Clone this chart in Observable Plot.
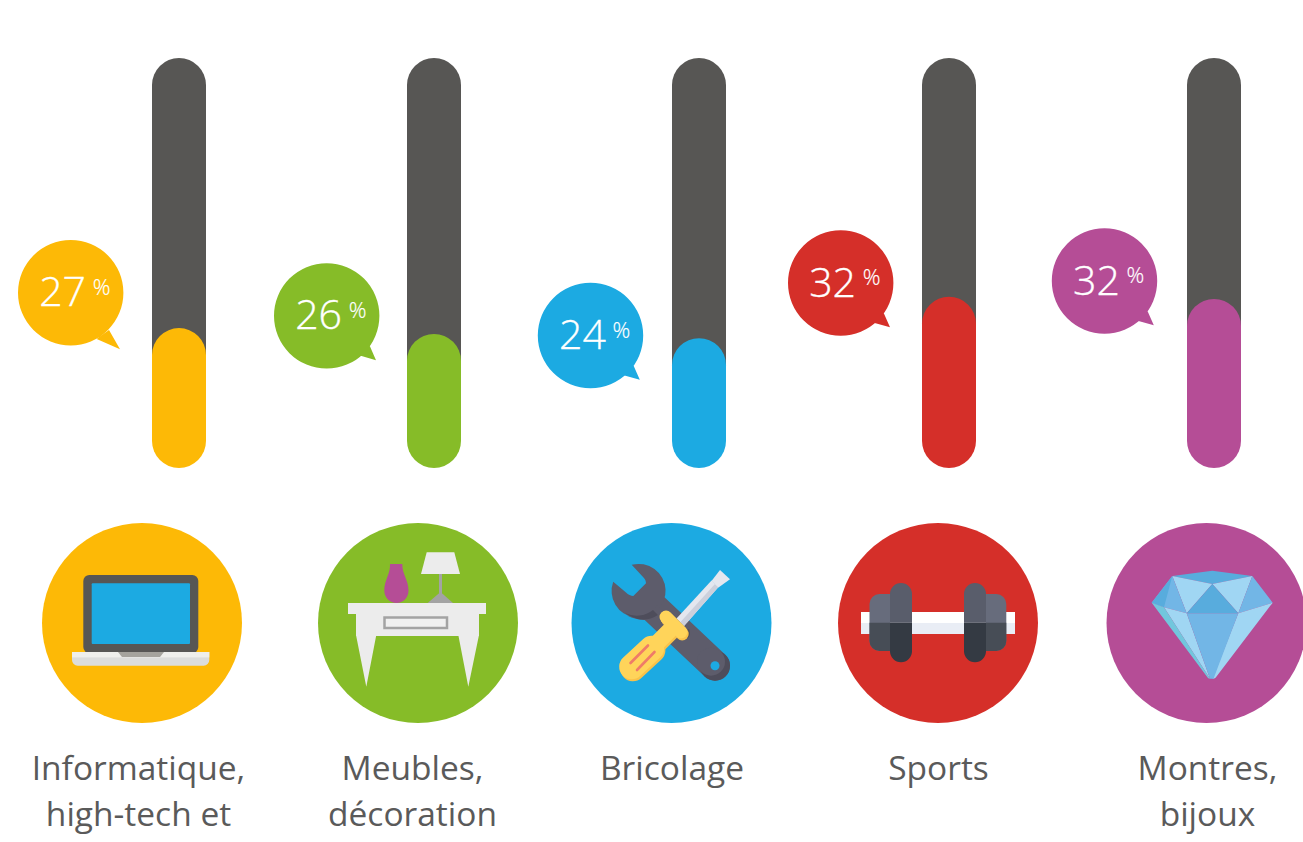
<!DOCTYPE html>
<html lang="fr">
<head>
<meta charset="utf-8">
<script src="https://cdn.jsdelivr.net/npm/d3@7"></script>
<script src="https://cdn.jsdelivr.net/npm/@observablehq/plot@0.6"></script>
<style>html,body{margin:0;padding:0;background:#fff;overflow:hidden}svg{display:block}</style>
</head>
<body>
<div id="chart"></div>
<script>
// Data
const categories = ["Informatique,\nhigh-tech et", "Meubles,\ndécoration", "Bricolage", "Sports", "Montres,\nbijoux"];
const percents = [27, 26, 24, 32, 32];
const barLevels = [26.4, 25.3, 24.5, 32.3, 31.9];      // drawn fill height
const bubbleLevels = [33.17, 28.8, 25.1, 35.0, 35.38]; // bubble height on the same axis
const colors = ["#fdb906", "#86bc28", "#1caae2", "#d52f29", "#b54d96"];
const trackLevel = 77.36;

// Layout (separate from data)
const barCenters = [179, 434, 699, 949, 1214];
const bubbleCenters = [70.2, 326.2, 590, 840.2, 1104];
const iconCenters = [141.5, 417.5, 671, 937.5, 1206];
const labelCenters = [138, 412, 671.5, 938, 1207];
const barHalf = 27;

const rows = categories.map((c, i) => ({
  category: c, percent: percents[i], level: barLevels[i], bubble: bubbleLevels[i], color: colors[i],
  barX1: barCenters[i] - barHalf, barX2: barCenters[i] + barHalf,
  bubbleX: bubbleCenters[i], iconX: iconCenters[i], labelX: labelCenters[i]
}));

const bubbleSymbol = (ax, ay, tx, ty, bx, by) => ({
  draw(ctx, size) {
    const r = Math.sqrt(size / Math.PI);
    ctx.moveTo(r, 0); ctx.arc(0, 0, r, 0, 2 * Math.PI); ctx.closePath();
    ctx.moveTo(ax, ay); ctx.lineTo(tx, ty); ctx.lineTo(bx, by); ctx.closePath();
  }
});

const iconsSvg = `
<g id="laptop">
  <rect x="83.3" y="575" width="115" height="78" rx="6" fill="#575654"/>
  <rect x="91.7" y="583.3" width="98.3" height="60.7" rx="1" fill="#1caae2"/>
  <path d="M72 652H209.3V660a5.7 5.7 0 0 1-5.7 5.7H77.7a5.7 5.7 0 0 1-5.7-5.7Z" fill="#dcdddc"/>
  <rect x="72" y="652" width="137.3" height="5.4" fill="#efefec"/>
  <path d="M118 652H164L160 657H122Z" fill="#a5a39d"/>
</g>
<g id="desk">
  <rect x="348" y="603" width="138" height="11" fill="#ececec"/>
  <rect x="356" y="614" width="123" height="22" fill="#ececec"/>
  <path d="M356 635L376.3 635L366.3 686.7Z M458.3 635L479 635L468.3 686.7Z" fill="#ececec"/>
  <rect x="384.5" y="617.5" width="62.5" height="10.5" fill="#f0f0f0" stroke="#a3a3a3" stroke-width="2.5"/>
  <path d="M426.7 552.3H454.3L460 574H421Z" fill="#ececec"/>
  <rect x="439" y="574" width="3" height="22" fill="#a3a3a3"/>
  <path d="M427.7 603L440.5 592L453 603Z" fill="#a3a3a3"/>
  <path d="M390 564H402.3C402 574 408.5 580 408.5 590.5C408.5 598 403 603 396.5 603C390 603 384.3 598 384.3 590.5C384.3 580 390.5 574 390 564Z" fill="#b54d96"/>
</g>
<g id="tools">
  <path d="M655 609L715 665.7" stroke="#5d5c6b" stroke-width="30" stroke-linecap="round" fill="none"/>
  <path d="M631.7 564.8A27 27 0 1 1 613.2 581.7L626 592.5C628 594.5 631 596 633.3 596L646 583.3C646 581 645 579 643.5 577.5Z" fill="#5d5c6b"/>
  <path d="M627 615.5C640 619 652 616 657 605L664 612C654 622 640 622 627 615.5Z" fill="#5d5c6b"/>
  <path d="M625 613A26.5 26.5 0 0 0 653 610L658 615A28 28 0 0 1 631 616.5Z" fill="#4e4d5b"/>
  <circle cx="715" cy="665.7" r="15" fill="#4e4d5b"/>
  <circle cx="711" cy="661.7" r="14" fill="#5d5c6b"/>
  <path d="M681 640C688 640 692 636 689 629L676 635Z" fill="#4e4d5b"/>
  <circle cx="715" cy="665.7" r="4.5" fill="#1caae2"/>
  <path d="M676.5 618.5L711.5 580.5L718.5 587L684 626Z" fill="#e4e7ef"/>
  <path d="M680.5 622L715 584L718.5 587L684 626Z" fill="#ccd0dc"/>
  <path d="M711.5 581L720 570L730 579.3L718.5 587.5Z" fill="#e4e7ef"/>
  <g fill="none" stroke-linecap="round" stroke-linejoin="round" transform="translate(1.2 2)" stroke="#f9c24a">
    <path d="M631.7 666.7L651.7 648.3" stroke-width="25"/>
    <path d="M655 645L670 630" stroke-width="16"/>
    <path d="M666 617L681 632" stroke-width="13"/>
  </g>
  <g fill="none" stroke-linecap="round" stroke-linejoin="round" stroke="#ffd45a">
    <path d="M631.7 666.7L651.7 648.3" stroke-width="25"/>
    <path d="M655 645L670 630" stroke-width="16"/>
    <path d="M666 617L681 632" stroke-width="13"/>
  </g>
  <path d="M630.5 663L648 645.5M637 670L654.5 652" stroke="#ef7b68" stroke-width="2.6" stroke-linecap="round"/>
</g>
<g id="dumbbell">
  <rect x="861" y="612" width="154" height="11" fill="#fff"/>
  <rect x="861" y="623" width="154" height="11" fill="#e9edf5"/>
  <path d="M890 594H879.5a10 10 0 0 0-10 10V641a10 10 0 0 0 10 10H890Z" fill="#676c7c"/>
  <path d="M986 594H996.3a10 10 0 0 1 10 10V641a10 10 0 0 1-10 10H986Z" fill="#676c7c"/>
  <path d="M869.5 622.7H890V651H879.5a10 10 0 0 1-10-10Z M986 622.7H1006.3V641a10 10 0 0 1-10 10H986Z" fill="#474d56"/>
  <path d="M890 622.7V594a11 11 0 0 1 22 0V622.7Z M964 622.7V594a11 11 0 0 1 22 0V622.7Z" fill="#595d6b"/>
  <path d="M890 622.7H912V651.3a11 11 0 0 1-22 0Z M964 622.7H986V651.3a11 11 0 0 1-22 0Z" fill="#343a43"/>
</g>
<g id="diamond">
  <path d="M1172.3 576L1212.3 570.7L1252.3 576L1212.3 584Z" fill="#58acdd"/>
  <path d="M1172.3 576L1212.3 584L1186.7 613.3Z M1252.3 576L1212.3 584L1238.3 613.3Z" fill="#a0d6f3"/>
  <path d="M1212.3 584L1186.7 613.3H1238.3Z" fill="#58acdd"/>
  <path d="M1172.3 576L1151.7 602.7L1164 607.3L1186.7 613.3Z M1252.3 576L1272.7 602.7L1238.3 613.3Z" fill="#72b6e6"/>
  <path d="M1172.3 576L1151.7 602.7L1164 607.3Z" fill="#58acdd"/>
  <path d="M1164 607.3L1186.7 613.3L1210 678.7Z M1238.3 613.3L1272.7 602.7L1216.5 676.5C1215.5 678 1214.5 678.7 1212.5 678.7Z" fill="#a0d6f3"/>
  <path d="M1186.7 613.3H1238.3L1213.5 678.7H1210Z" fill="#72b6e6"/>
  <path d="M1151.7 602.7L1164 607.3L1210 678.7C1208.5 678.7 1207.5 677.5 1206.5 676Z" fill="#72c6dd"/>
</g>`;

const white = "#ffffff";
const textFont = "Open Sans";

const chart = Plot.plot({
  width: 1303,
  height: 842,
  margin: 0,
  style: {background: "#fff", fontFamily: textFont},
  x: {type: "linear", domain: [0, 1303], range: [0, 1303], axis: null},
  y: {type: "linear", domain: [0, trackLevel], range: [468, 58], clamp: false, axis: null},
  marks: [
    // tracks and fills
    Plot.rect(rows, {x1: "barX1", x2: "barX2", y1: () => 8, y2: () => trackLevel, fill: "#575654", rx: barHalf}),
    Plot.rect(rows, {x1: "barX1", x2: "barX2", y1: () => 0, y2: "level", fill: "color", rx: barHalf}),
    // speech bubbles
    Plot.dot(rows.slice(0, 1), {x: "bubbleX", y: "bubble", r: 52.7, fill: "color",
      symbol: bubbleSymbol(38.3, 37.3, 49.3, 56.6, 26, 46.3)}),
    Plot.dot(rows.slice(1), {x: "bubbleX", y: "bubble", r: 52.7, fill: "color",
      symbol: bubbleSymbol(43, 30, 49.3, 44.3, 34, 40)}),
    Plot.text(rows, {x: "bubbleX", y: "bubble", text: d => String(d.percent), dx: -31.5, dy: 0.5, textAnchor: "start",
      fill: white, stroke: white, strokeWidth: 0.35, fontSize: 41, fontWeight: 300, fontFamily: textFont}),
    Plot.text(rows, {x: "bubbleX", y: "bubble", text: () => "%", dx: 22, dy: -5, textAnchor: "start",
      fill: white, stroke: white, strokeWidth: 0.2, fontSize: 22, fontWeight: 300, fontFamily: textFont}),
    // icon discs
    Plot.dot(rows, {x: "iconX", frameAnchor: "top", dy: 622.5, r: 100, fill: "color"}),
    () => d3.create("svg:g").html(iconsSvg).node(),
    // category labels
    Plot.text(rows, {x: "labelX", frameAnchor: "top", dy: 747, text: "category", lineHeight: 1.37, lineAnchor: "top",
      fill: "#5a5a5a", fontSize: 33.5, fontFamily: textFont})
  ]
});
document.getElementById("chart").append(chart);
</script>
</body>
</html>
